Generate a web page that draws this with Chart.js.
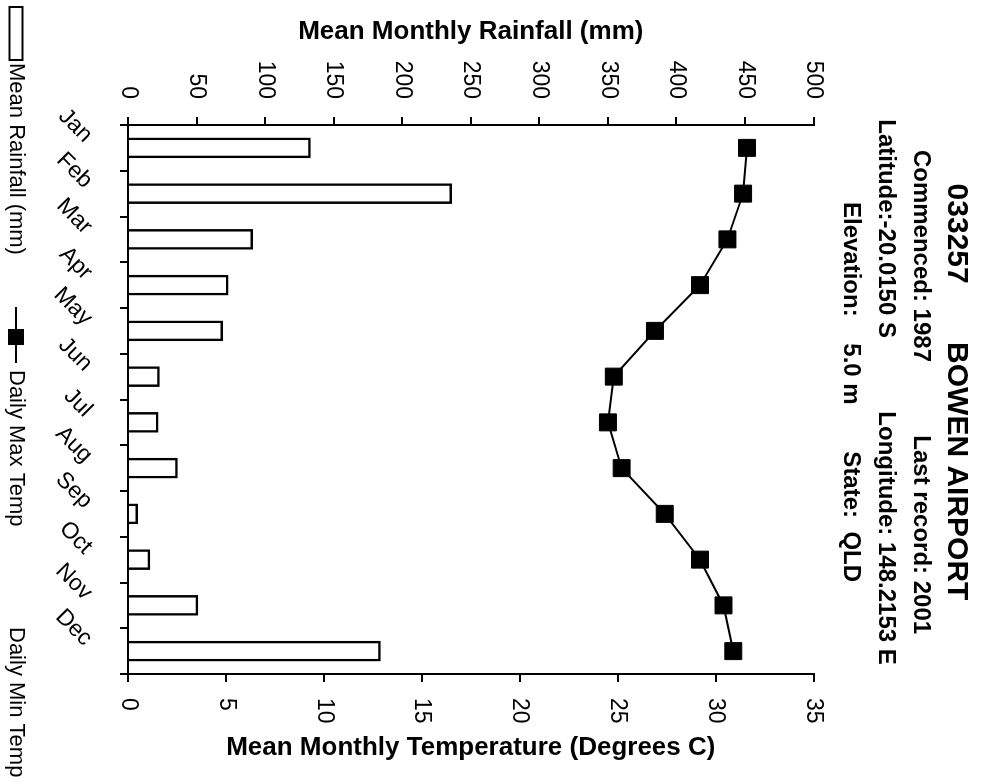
<!DOCTYPE html>
<html>
<head>
<meta charset="utf-8">
<title>033257 BOWEN AIRPORT</title>
<script src="https://cdn.jsdelivr.net/npm/chart.js@4.4.1/dist/chart.umd.min.js"></script>
<style>
  html, body { margin: 0; padding: 0; background: #fff; overflow: hidden; }
  /* the chart is laid out upright, then turned a quarter clockwise */
  #wrap {
    position: absolute; left: 0; top: 0;
    width: 784px; height: 982px;
    transform-origin: 0 0;
    transform: translate(982px, 0) rotate(90deg);
  }
  canvas { display: block; }
</style>
</head>
<body>
<div id="wrap"><canvas id="climateChart" width="784" height="982"></canvas></div>
<script>
const months = ['Jan', 'Feb', 'Mar', 'Apr', 'May', 'Jun', 'Jul', 'Aug', 'Sep', 'Oct', 'Nov', 'Dec'];
const rainfall = [133, 236, 91, 73, 69, 23, 22, 36, 7, 16, 51, 184];
const maxTemp = [31.6, 31.4, 30.6, 29.2, 26.9, 24.8, 24.5, 25.2, 27.4, 29.2, 30.4, 30.9];
const minTemp = []; // no min temp record for this station
const rainTicks = [0, 50, 100, 150, 200, 250, 300, 350, 400, 450, 500];
const tempTicks = [0, 5, 10, 15, 20, 25, 30, 35];

const stationTitle = '033257       BOWEN AIRPORT';
const stationInfo = [
    'Commenced: 1987           Last record: 2001',
    'Latitude:-20.0150 S           Longitude: 148.2153 E',
    'Elevation:    5.0 m       State:  QLD'
];
const rainTitle = 'Mean Monthly Rainfall (mm)';
const tempTitle = 'Mean Monthly Temperature (Degrees C)';

const FONT = "'Liberation Sans', Arial, Helvetica, sans-serif";
Chart.defaults.font.family = FONT;
Chart.defaults.color = '#000';

// axis line + outward ticks, no grid inside the plot
function axisGrid() {
    return { drawOnChartArea: false, drawTicks: true, tickLength: 8, color: '#000', lineWidth: 2 };
}

// temperature axis title and the legend row along the bottom
const extras = {
    id: 'extras',
    afterDraw(chart) {
        const ctx = chart.ctx;
        const area = chart.chartArea;
        const sets = chart.data.datasets;

        ctx.save();
        ctx.fillStyle = '#000';
        ctx.font = `bold 26px ${FONT}`;
        ctx.textAlign = 'center';
        ctx.textBaseline = 'middle';
        ctx.translate(chart.scales.yTemp.right - 36, (area.top + area.bottom) / 2);
        ctx.rotate(-Math.PI / 2);
        ctx.fillText(tempTitle, 0, 0);
        ctx.restore();

        const ly = chart.height - 16;
        ctx.save();
        ctx.strokeStyle = '#000';
        ctx.lineWidth = 2;
        ctx.font = `22px ${FONT}`;
        ctx.textAlign = 'left';
        ctx.textBaseline = 'middle';

        // rainfall: open box
        ctx.fillStyle = '#fff';
        ctx.fillRect(7, ly - 6.5, 53, 13);
        ctx.strokeRect(7, ly - 6.5, 53, 13);
        ctx.fillStyle = '#000';
        ctx.fillText(sets[0].label, 63, ly);

        // max temp: line through a filled square
        ctx.beginPath();
        ctx.moveTo(307, ly);
        ctx.lineTo(363, ly);
        ctx.stroke();
        ctx.fillRect(329, ly - 8, 16, 16);
        ctx.fillText(sets[1].label, 370, ly);

        // min temp: label only
        ctx.fillText(sets[2].label, 627, ly);
        ctx.restore();
    }
};

new Chart(document.getElementById('climateChart'), {
    type: 'bar',
    data: {
        labels: months,
        datasets: [
            {
                type: 'bar',
                label: 'Mean Rainfall (mm)',
                data: rainfall,
                yAxisID: 'yRain',
                backgroundColor: '#fff',
                borderColor: '#000',
                borderWidth: 2.5,
                barThickness: 20,
                order: 2
            },
            {
                type: 'line',
                label: 'Daily Max Temp',
                data: maxTemp,
                yAxisID: 'yTemp',
                borderColor: '#000',
                borderWidth: 2,
                tension: 0,
                pointStyle: 'rect',
                pointRadius: 12,
                pointBackgroundColor: '#000',
                pointBorderColor: '#000',
                pointBorderWidth: 1,
                order: 1
            },
            {
                type: 'line',
                label: 'Daily Min Temp',
                data: minTemp,
                yAxisID: 'yTemp',
                borderColor: '#000',
                order: 0
            }
        ]
    },
    options: {
        responsive: false,
        animation: false,
        layout: { padding: 0 },
        plugins: {
            legend: { display: false },
            tooltip: { enabled: false },
            title: {
                display: true,
                text: stationTitle,
                color: '#000',
                font: { size: 30, weight: 'bold', lineHeight: 1.2 },
                padding: { top: 8, bottom: 0 }
            },
            subtitle: {
                display: true,
                text: stationInfo,
                color: '#000',
                font: { size: 24, weight: 'bold', lineHeight: 1.45 },
                padding: { top: 0, bottom: 20 }
            }
        },
        scales: {
            x: {
                type: 'category',
                position: 'bottom',
                offset: true,
                grid: Object.assign(axisGrid(), { offset: true }),
                border: { display: true, color: '#000', width: 2 },
                ticks: {
                    color: '#000',
                    font: { size: 23 },
                    minRotation: 45,
                    maxRotation: 45,
                    autoSkip: false,
                    padding: 22,
                    labelOffset: -9
                },
                afterFit(scale) { scale.height = 128; }
            },
            yRain: {
                type: 'linear',
                position: 'left',
                min: 0,
                max: 500,
                grid: axisGrid(),
                border: { display: true, color: '#000', width: 2 },
                ticks: { color: '#000', font: { size: 23 }, padding: 18 },
                afterBuildTicks(scale) { scale.ticks = rainTicks.map(v => ({ value: v })); },
                title: {
                    display: true,
                    text: rainTitle,
                    color: '#000',
                    font: { size: 26, weight: 'bold', lineHeight: 1.2 },
                    padding: { top: 16, bottom: 0 }
                },
                afterFit(scale) { scale.width = 125; }
            },
            yTemp: {
                type: 'linear',
                position: 'right',
                min: 0,
                max: 35,
                grid: axisGrid(),
                border: { display: true, color: '#000', width: 2 },
                ticks: { color: '#000', font: { size: 23 }, padding: 16 },
                afterBuildTicks(scale) { scale.ticks = tempTicks.map(v => ({ value: v })); },
                afterFit(scale) { scale.width = 110; }
            }
        }
    },
    plugins: [extras]
});
</script>
</body>
</html>
